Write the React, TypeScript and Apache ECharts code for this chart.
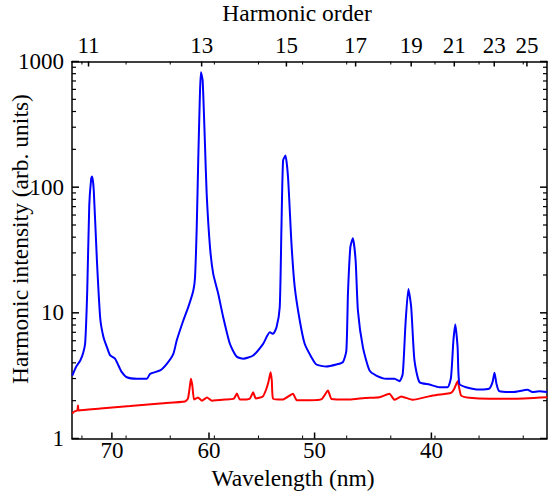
import React, { useEffect, useRef } from "react";
import * as echarts from "echarts";

// ---- data ----
const wavelengthTicks = [70, 60, 50, 40];
const harmonicOrders = [11, 13, 15, 17, 19, 21, 23, 25];
const harmonicWavelengths = [72.52, 60.73, 52.58, 46.36, 41.65, 38.17, 35.08, 32.65];
const frameTickWavelengths = [73.24, 68.49, 63.9, 59.47, 55.2, 51.09, 47.14, 43.35, 39.71, 36.24, 32.92];
const intensityTicks = [1, 10, 100, 1000];
const intensityMinorTicks = [2, 3, 4, 5, 6, 7, 8, 9, 20, 30, 40, 50, 60, 70, 80, 90, 200, 300, 400, 500, 600, 700, 800, 900];

const blueWavelength = [
  74.3, 73.86, 73.42, 73.09, 72.88, 72.66, 72.44, 72.23, 72.12, 71.95,
  71.61, 71.25, 70.9, 70.53, 70.18, 69.65, 69.3, 68.94, 68.41, 67.36,
  66.31, 65.97, 64.94, 64.25, 63.58, 63.24, 62.57, 62.07, 61.56, 61.39,
  61.22, 61.07, 60.9, 60.8, 60.63, 60.4, 60.23, 59.9, 59.58, 59.09,
  58.6, 57.95, 57.3, 56.66, 55.71, 54.76, 54.13, 53.82, 53.5, 53.2,
  53.04, 52.89, 52.67, 52.43, 52.11, 51.81, 51.35, 50.9, 50.29, 49.84,
  48.94, 48.05, 47.47, 47.17, 47.03, 46.82, 46.6, 46.36, 46.16, 45.73,
  45.16, 44.58, 43.74, 43.04, 42.62, 42.35, 42.12, 41.88, 41.65, 41.38,
  40.97, 40.16, 39.36, 38.7, 38.43, 38.24, 38.09, 37.91, 37.77, 37.25,
  36.22, 35.46, 35.21, 35.06, 34.91, 34.7, 33.71, 32.61, 32.25, 31.76, 31.19,
];
const blueIntensity = [
  3.17, 3.74, 4.18, 4.83, 5.81, 15.05, 71.5, 117.2, 121.6, 94.1,
  26.1, 9.01, 6.4, 5.33, 4.58, 4.31, 3.81, 3.37, 3.07, 2.99,
  2.99, 3.27, 3.48, 3.93, 4.72, 6.02, 8.69, 11.09, 15.05, 19.2,
  48.0, 163, 553, 822, 706, 221, 88.6, 33.3, 20.4, 14.2,
  9.23, 5.67, 4.49, 4.31, 4.58, 5.67, 7.01, 6.81, 7.69, 11.09,
  48.0, 163, 178.6, 120, 35.4, 16.0, 8.69, 5.67, 4.44, 3.88,
  3.74, 3.88, 4.05, 5.01, 14.2, 33.3, 39.3, 26.1, 10.4, 5.33,
  3.48, 3.17, 2.99, 2.99, 2.86, 3.27, 8.18, 15.5, 11.09, 4.18,
  2.81, 2.69, 2.56, 2.56, 3.07, 6.02, 8.09, 5.33, 2.72, 2.56,
  2.45, 2.49, 2.81, 3.33, 2.72, 2.38, 2.34, 2.44, 2.34, 2.38, 2.34,
];

const redWavelength = [
  74.3, 74.08, 73.75, 73.67, 73.59, 71.25, 68.06, 64.94, 62.4, 62.1,
  61.9, 61.8, 61.66, 61.49, 61.1, 60.7, 60.2, 59.71, 58.43, 57.56,
  57.27, 56.98, 56.02, 55.71, 55.45, 54.79, 54.51, 54.27, 54.06, 53.94,
  53.82, 52.92, 51.97, 51.63, 50.44, 49.36, 48.8, 48.47, 46.89, 45.58,
  44.3, 43.46, 43.04, 42.48, 41.52, 39.89, 38.82, 38.4, 38.17, 37.91,
  37.64, 36.99, 35.46, 33.71, 31.19,
];
const redIntensity = [
  1.58, 1.64, 1.67, 1.83, 1.67, 1.73, 1.81, 1.9, 1.97, 2.08,
  2.64, 2.99, 2.64, 2.04, 2.12, 2.0, 2.12, 2.0, 2.04, 2.08,
  2.28, 2.04, 2.08, 2.33, 2.08, 2.16, 2.41, 2.79, 3.37, 2.89,
  2.07, 2.04, 2.27, 2.02, 2.02, 2.06, 2.41, 2.06, 2.04, 2.1,
  2.13, 2.27, 2.03, 2.16, 2.03, 2.2, 2.27, 2.32, 2.49, 2.86,
  2.2, 2.11, 2.07, 2.07, 2.13,
];

const wavelengthMin = 31.2;
const wavelengthMax = 74.33;

// spectrometer axis: position linear in sqrt(wavelength)
const toAxis = (l: number) => Math.sqrt(l);

const FONT = '"Liberation Serif", "Times New Roman", serif';
const BLACK = "#000";

export default function App() {
  const ref = useRef<HTMLDivElement>(null);
  useEffect(() => {
    if (!ref.current) return;
    const chart = echarts.init(ref.current, null, { renderer: "svg" });

    const harmonicAxisValues = harmonicWavelengths.map(toAxis);
    const harmonicLabel = (v: number) => {
      let best = 0;
      let bd = Infinity;
      harmonicAxisValues.forEach((h, i) => {
        const d = Math.abs(h - v);
        if (d < bd) {
          bd = d;
          best = i;
        }
      });
      return String(harmonicOrders[best]);
    };

    const baseX = {
      type: "value",
      min: toAxis(wavelengthMin),
      max: toAxis(wavelengthMax),
      inverse: true,
      splitLine: { show: false },
      axisTick: { show: false },
    };
    const baseY = {
      type: "log",
      logBase: 10,
      min: 1,
      max: 1000,
      splitLine: { show: false },
      axisTick: { show: false },
    };
    const lineStyle = { color: BLACK, width: 1.5 };
    const labelStyle = { color: BLACK, fontFamily: FONT, fontSize: 23 };
    const midX = toAxis(50);

    // tick marks drawn through the axes' own scales
    const xTickSeries = (values: number[], len: number, top: boolean, bottom: boolean, width: number) => ({
      type: "custom",
      xAxisIndex: 0,
      yAxisIndex: 0,
      silent: true,
      clip: false,
      z: 10,
      data: values.map((l) => [toAxis(l), 10]),
      renderItem: (params: any, api: any) => {
        const cs = params.coordSys;
        const px = api.coord([api.value(0), api.value(1)])[0];
        const children: any[] = [];
        const style = { stroke: BLACK, lineWidth: width };
        if (bottom)
          children.push({ type: "line", shape: { x1: px, y1: cs.y + cs.height, x2: px, y2: cs.y + cs.height - len }, style });
        if (top) children.push({ type: "line", shape: { x1: px, y1: cs.y, x2: px, y2: cs.y + len }, style });
        return { type: "group", children };
      },
    });
    const yTickSeries = (values: number[], len: number, width: number) => ({
      type: "custom",
      xAxisIndex: 0,
      yAxisIndex: 0,
      silent: true,
      clip: false,
      z: 10,
      data: values.map((v) => [midX, v]),
      renderItem: (params: any, api: any) => {
        const cs = params.coordSys;
        const py = api.coord([api.value(0), api.value(1)])[1];
        const style = { stroke: BLACK, lineWidth: width };
        return {
          type: "group",
          children: [
            { type: "line", shape: { x1: cs.x, y1: py, x2: cs.x + len, y2: py }, style },
            { type: "line", shape: { x1: cs.x + cs.width, y1: py, x2: cs.x + cs.width - len, y2: py }, style },
          ],
        };
      },
    });

    const titleStyle = (text: string) => ({
      text,
      font: `23.5px ${FONT}`,
      fill: BLACK,
      align: "center",
      verticalAlign: "middle",
      textAlign: "center",
      textVerticalAlign: "middle",
    });

    chart.setOption({
      animation: false,
      backgroundColor: "#fff",
      grid: {
        left: 72,
        right: 2,
        top: 61.5,
        bottom: 56.5,
        containLabel: false,
        outerBoundsMode: "none",
      },
      xAxis: [
        {
          ...baseX,
          position: "bottom",
          axisLine: { show: true, onZero: false, lineStyle },
          axisLabel: {
            ...labelStyle,
            margin: 0,
            customValues: wavelengthTicks.map(toAxis),
            formatter: (v: number) => String(Math.round(v * v)),
          },
        },
        {
          ...baseX,
          position: "top",
          axisLine: { show: true, onZero: false, lineStyle },
          axisLabel: {
            ...labelStyle,
            margin: 5,
            customValues: harmonicAxisValues,
            formatter: harmonicLabel,
          },
        },
      ],
      yAxis: [
        {
          ...baseY,
          position: "left",
          axisLine: { show: true, onZero: false, lineStyle },
          axisLabel: {
            ...labelStyle,
            margin: 8,
            customValues: intensityTicks,
            formatter: (v: number) => String(Math.round(v)),
          },
        },
        {
          ...baseY,
          position: "right",
          axisLine: { show: true, onZero: false, lineStyle },
          axisLabel: { show: false },
        },
      ],
      series: [
        {
          type: "line",
          name: "red",
          xAxisIndex: 0,
          yAxisIndex: 0,
          data: redWavelength.map((l, i) => [toAxis(l), redIntensity[i]]),
          showSymbol: false,
          symbol: "none",
          smooth: 0.15,
          lineStyle: { color: "#ff0000", width: 2 },
          z: 3,
        },
        {
          type: "line",
          name: "blue",
          xAxisIndex: 0,
          yAxisIndex: 0,
          data: blueWavelength.map((l, i) => [toAxis(l), blueIntensity[i]]),
          showSymbol: false,
          symbol: "none",
          smooth: 0.2,
          lineStyle: { color: "#0000ff", width: 2 },
          z: 4,
        },
        xTickSeries(wavelengthTicks, 6, false, true, 1.5),
        xTickSeries(harmonicWavelengths, 5, true, false, 1.5),
        xTickSeries(frameTickWavelengths, 3, true, true, 1),
        yTickSeries(intensityTicks, 7, 1.5),
        yTickSeries(intensityMinorTicks, 4, 1.2),
      ],
      graphic: [
        { type: "text", x: 297, y: 13, style: titleStyle("Harmonic order") },
        { type: "text", x: 293, y: 478, style: titleStyle("Wavelength (nm)") },
        { type: "text", x: 20, y: 239, rotation: Math.PI / 2, style: titleStyle("Harmonic intensity (arb. units)") },
      ],
    });
    return () => chart.dispose();
  }, []);
  return (
    <div
      ref={ref}
      style={{ position: "absolute", left: 0, top: 0, width: 549, height: 495, background: "#fff" }}
    />
  );
}
